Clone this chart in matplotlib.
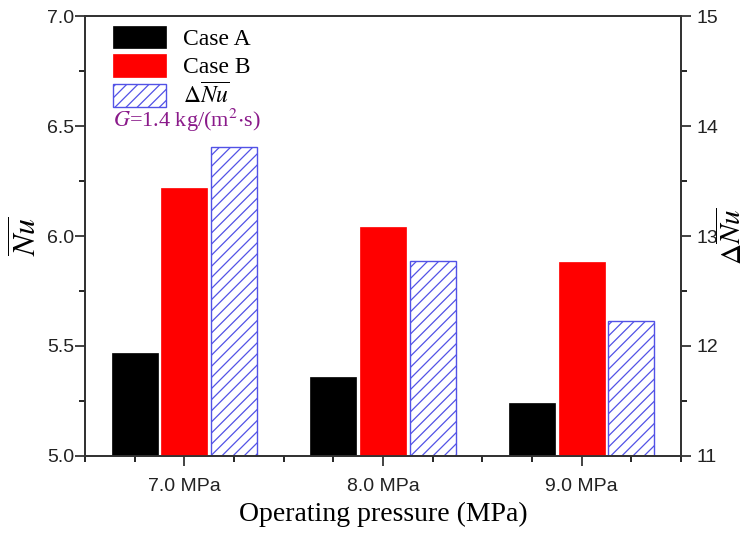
import matplotlib
matplotlib.use("Agg")
import matplotlib.pyplot as plt
from matplotlib.ticker import MultipleLocator, FixedLocator, FormatStrFormatter
import numpy as np

# Data
pressures = ["7.0 MPa", "8.0 MPa", "9.0 MPa"]
nu_case_a = [5.47, 5.36, 5.24]
nu_case_b = [6.22, 6.04, 5.88]
delta_nu = [13.81, 12.77, 12.23]

plt.rcParams["mathtext.fontset"] = "stix"
plt.rcParams["hatch.linewidth"] = 0.9

fig = plt.figure(figsize=(7.52, 5.36), dpi=100)
ax = fig.add_axes([0.113, 0.1493, 0.7926, 0.8208])
ax2 = ax.twinx()

x = np.arange(len(pressures))
w = 0.232
off = 0.25

b1 = ax.bar(x - off, nu_case_a, w, color="black", edgecolor="black", linewidth=0.5, label="Case A")
b2 = ax.bar(x, nu_case_b, w, color="#ff0000", edgecolor="#ff0000", linewidth=0.5, label="Case B")
b3 = ax2.bar(x + off, delta_nu, w, color="white", edgecolor="#5252e6", linewidth=1.0,
             hatch="///", label=r"$\Delta\overline{Nu}$")

ax.set_xlim(-0.5, 2.5)
ax.set_ylim(5.0, 7.0)
ax2.set_ylim(11, 15)

# x axis: labels at group centres, ticks every half and quarter group
ax.set_xticks(x)
ax.set_xticklabels(pressures)
ax.xaxis.set_minor_locator(FixedLocator(np.arange(-0.5, 2.51, 0.25)))
ax.yaxis.set_major_locator(MultipleLocator(0.5))
ax.yaxis.set_minor_locator(MultipleLocator(0.25))
ax.yaxis.set_major_formatter(FormatStrFormatter("%.1f"))
ax2.yaxis.set_major_locator(MultipleLocator(1))
ax2.yaxis.set_minor_locator(MultipleLocator(0.5))

tick_font = "Liberation Sans"
for a in (ax, ax2):
    a.tick_params(which="major", direction="out", length=7, width=1.2, labelsize=14, colors="#222222")
    a.tick_params(which="minor", direction="out", length=4, width=1.2)
    for lab in a.get_xticklabels() + a.get_yticklabels():
        lab.set_fontfamily(tick_font)
    for s in a.spines.values():
        s.set_linewidth(1.3)
        s.set_color("#333333")
ax.tick_params(axis="x", which="major", pad=9)
ax.tick_params(axis="y", which="major", pad=1)
ax.tick_params(axis="y", which="both", right=False)
ax2.tick_params(axis="y", which="major", pad=4)
ax2.tick_params(axis="x", which="both", top=False, bottom=False)

ax.set_xlabel("Operating pressure (MPa)", fontfamily="Liberation Serif", fontsize=20, labelpad=5)
ax.set_ylabel(r"$\overline{Nu}$", fontsize=23, labelpad=2)
ax2.set_ylabel(r"$\Delta\overline{Nu}$", fontsize=21, labelpad=0)

ax.set_zorder(ax2.get_zorder() + 1)
ax.patch.set_visible(False)

leg = ax.legend(handles=[b1, b2, b3], loc="upper left", bbox_to_anchor=(0.047, 0.978),
                frameon=False, prop={"family": "Liberation Serif", "size": 17},
                handlelength=2.25, handleheight=1.1, handletextpad=0.72, labelspacing=0.17,
                borderpad=0, borderaxespad=0)

ax.text(0.047, 0.762, r"$G$=1.4 kg/(m$^2$$\cdot$s)", transform=ax.transAxes,
        fontfamily="Liberation Serif", fontsize=16, color="#8a1a8a", va="center", ha="left")

fig.savefig("out.png", dpi=100)
